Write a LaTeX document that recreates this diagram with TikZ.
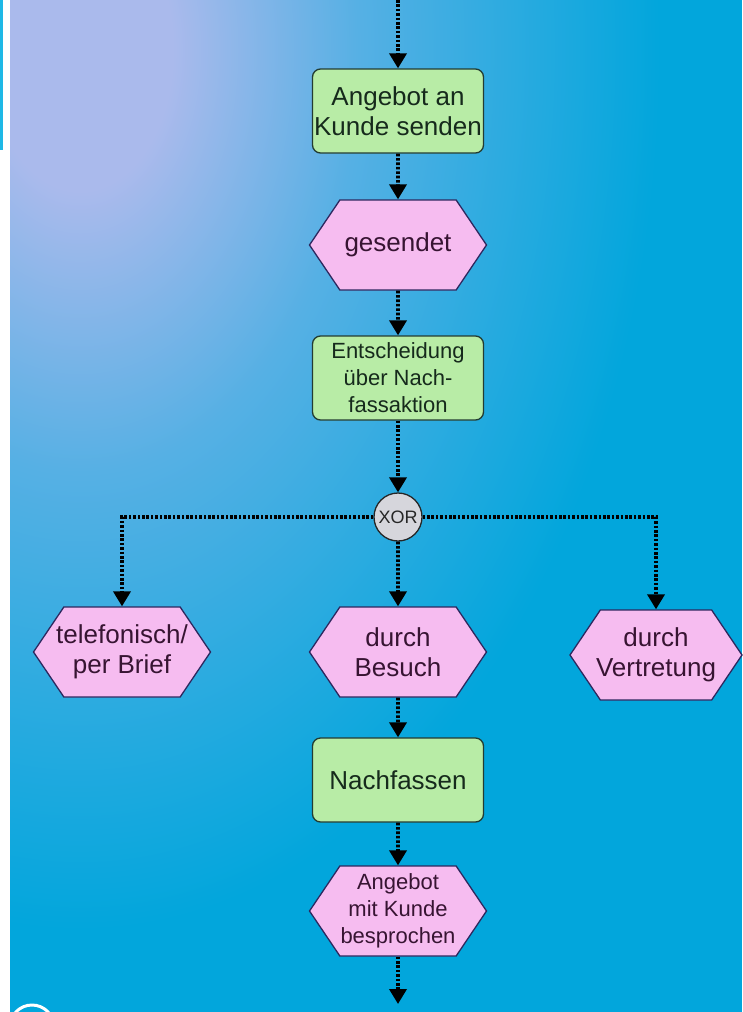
\documentclass[tikz,border=0pt]{standalone}
\usepackage{fontspec}
\setmainfont{Liberation Sans}
\usetikzlibrary{arrows.meta,shapes.symbols}
\definecolor{skyblue}{RGB}{2,166,220}
\definecolor{haze}{RGB}{170,186,236}
\definecolor{stripblue}{RGB}{30,184,230}
\definecolor{funcfill}{RGB}{184,236,166}
\definecolor{funcline}{RGB}{35,60,50}
\definecolor{functext}{RGB}{22,42,28}
\definecolor{eventfill}{RGB}{246,188,240}
\definecolor{eventline}{RGB}{45,40,95}
\definecolor{eventtext}{RGB}{55,20,50}
\definecolor{opfill}{RGB}{214,214,220}
% soft glow for the upper left of the canvas
\pgfdeclareradialshading{glow}{\pgfpoint{0bp}{0bp}}{%
  color(0bp)=(haze); color(4bp)=(haze); color(12bp)=(haze!50!skyblue);
  color(25bp)=(skyblue); color(50bp)=(skyblue)}
% a line of text whose width does not widen the surrounding shape
\newcommand{\tightline}[1]{\makebox[100pt]{#1}}
\begin{document}
\begin{tikzpicture}[x=1pt,y=-1pt,
  bigtext/.style={font=\fontsize{26}{30}\selectfont},
  smalltext/.style={font=\fontsize{22}{27}\selectfont},
  func/.style={draw=funcline, fill=funcfill, line width=1.3pt, rounded corners=8pt,
    minimum width=171pt, minimum height=84pt, inner sep=0pt, align=center, text=functext},
  event/.style={signal, signal to=west and east, signal pointer angle=112,
    draw=eventline, fill=eventfill, line width=1.3pt,
    minimum width=177pt, minimum height=90pt, inner sep=0pt, align=center, text=eventtext},
  connector/.style={draw=black!85, line width=1.3pt, fill=opfill, circle,
    minimum size=48pt, inner sep=0pt, font=\fontsize{18}{18}\selectfont, text=black!85},
  flow/.style={black, line width=3.6pt, dash pattern=on 2.6pt off 1.8pt,
    -{Triangle[width=17pt,length=15pt]}}]
\useasboundingbox (0,0) rectangle (742,1012);
% page ground with the blue canvas
\fill[white] (0,0) rectangle (742,1012);
\fill[stripblue] (0,0) rectangle (3,150);
\begin{scope}
  \clip (10,0) rectangle (742,1012);
  \fill[skyblue] (10,0) rectangle (742,1012);
  \shade[shading=glow] (80,50) ellipse [x radius=580, y radius=880];
  \draw[white, line width=3pt] (32,1027) circle (22);
\end{scope}

% functions, events and the connector
\node[func, bigtext] (send) at (398,111) {Angebot an\\Kunde senden};
\node[event, bigtext] (sent) at (398,245) {gesendet};
\node[func, smalltext] (decide) at (398,378) {Entscheidung\\über Nach-\\fassaktion};
\node[connector] (xor) at (398,517) {XOR};
\node[event, bigtext] (phone) at (122,652) {\tightline{telefonisch/}\\\tightline{per Brief}};
\node[event, bigtext] (visit) at (398,652) {durch\\Besuch};
\node[event, bigtext, minimum width=172pt] (agent) at (656,655) {\tightline{durch}\\\tightline{Vertretung}};
\node[func, bigtext] (follow) at (398,780) {Nachfassen};
\node[event, smalltext] (talk) at (398,911) {\tightline{Angebot}\\\tightline{mit Kunde}\\\tightline{besprochen}};
\coordinate (in) at (398,0);
\coordinate (out) at (398,1004);

% control flow
\draw[flow] (in) -- (send);
\draw[flow] (send) -- (sent);
\draw[flow] (sent) -- (decide);
\draw[flow] (decide) -- (xor);
\draw[flow] (xor) -- (visit);
\draw[flow] (xor) -| (phone);
\draw[flow] (xor) -| (agent);
\draw[flow] (visit) -- (follow);
\draw[flow] (follow) -- (talk);
\draw[flow] (talk) -- (out);
\end{tikzpicture}
\end{document}
